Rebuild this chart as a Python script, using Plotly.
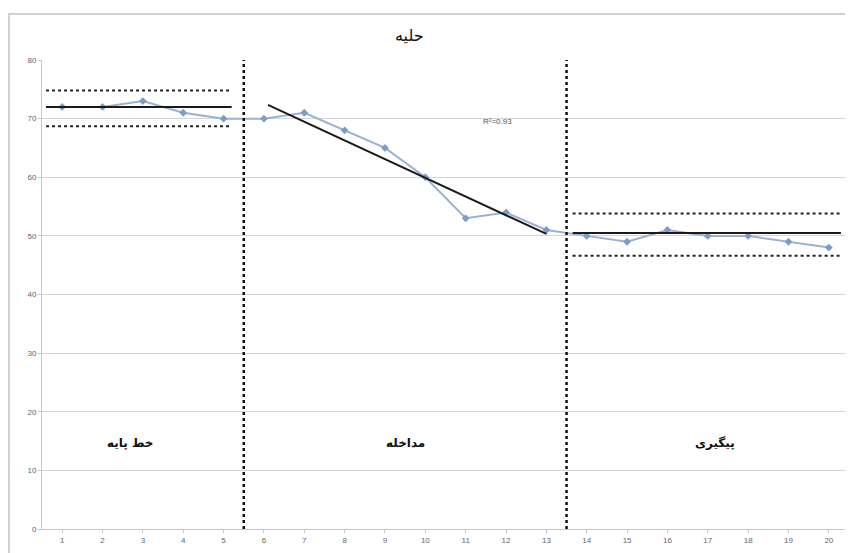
import numpy as np
import plotly.graph_objects as go

# ---- data ----
sessions = list(range(1, 21))
baseline_x = [1, 2, 3, 4, 5]
baseline_y = [72, 72, 73, 71, 70]
intervention_x = [6, 7, 8, 9, 10, 11, 12, 13]
intervention_y = [70, 71, 68, 65, 60, 53, 54, 51]
followup_x = [14, 15, 16, 17, 18, 19, 20]
followup_y = [50, 49, 51, 50, 50, 49, 48]

baseline_mean = 72
baseline_band = [68.7, 74.8]
followup_mean = 50.5
followup_band = [46.6, 53.8]

phase_labels = ["خط پایه", "مداخله", "پیگیری"]
phase_label_x = [2.68, 9.5, 17.18]
phase_breaks = [5.5, 13.5]
title_text = "حلیه"
y_ticks = [0, 10, 20, 30, 40, 50, 60, 70, 80]

all_x = baseline_x + intervention_x + followup_x
all_y = baseline_y + intervention_y + followup_y

# linear trend for intervention phase
slope, icpt = np.polyfit(intervention_x, intervention_y, 1)
pred = slope * np.array(intervention_x) + icpt
ss_res = np.sum((np.array(intervention_y) - pred) ** 2)
ss_tot = np.sum((np.array(intervention_y) - np.mean(intervention_y)) ** 2)
r2 = 1 - ss_res / ss_tot
trend_x = [6.1, 13.0]
trend_y = [slope * v + icpt for v in trend_x]

AR = "DejaVu Sans"
fig = go.Figure()

# data series
fig.add_trace(go.Scatter(
    x=all_x, y=all_y, mode="lines+markers",
    line=dict(color="#98B2D6", width=2),
    marker=dict(symbol="diamond", size=6, color="#7C9CC6"),
    showlegend=False, hoverinfo="skip"))

# baseline mean & band
bx = [0.6, 5.2]
fig.add_trace(go.Scatter(x=bx, y=[baseline_mean] * 2, mode="lines",
                         line=dict(color="#1a1a1a", width=2), showlegend=False))
for b in baseline_band:
    fig.add_trace(go.Scatter(x=bx, y=[b] * 2, mode="lines",
                             line=dict(color="#222", width=2, dash="dot"), showlegend=False))

# trend
fig.add_trace(go.Scatter(x=trend_x, y=trend_y, mode="lines",
                         line=dict(color="#1a1a1a", width=2), showlegend=False))

# follow-up mean & band
fx = [13.65, 20.3]
fig.add_trace(go.Scatter(x=fx, y=[followup_mean] * 2, mode="lines",
                         line=dict(color="#1a1a1a", width=2), showlegend=False))
for b in followup_band:
    fig.add_trace(go.Scatter(x=fx, y=[b] * 2, mode="lines",
                             line=dict(color="#222", width=2, dash="dot"), showlegend=False))

# phase break lines
for pb in phase_breaks:
    fig.add_shape(type="line", xref="x", yref="y", x0=pb, x1=pb, y0=0, y1=80,
                  line=dict(color="#111", width=2.5, dash="dot"))

# outer chart border
fig.add_shape(type="rect", xref="paper", yref="paper",
              x0=-0.041, x1=1.05, y0=-0.1, y1=1.098,
              line=dict(color="#cfcfcf", width=2), layer="below")

# phase labels
for lab, lx in zip(phase_labels, phase_label_x):
    fig.add_annotation(x=lx, y=14.7, text="<b>" + lab + "</b>", showarrow=False,
                       font=dict(family=AR, size=12, color="#111"))

# R2 label
fig.add_annotation(x=11.78, y=69.5, text="R²=%.2f" % r2, showarrow=False,
                   font=dict(family="Liberation Sans", size=8, color="#555"))

# title
fig.add_annotation(xref="paper", yref="paper", x=0.456, y=1.053, text=title_text,
                   xanchor="center", yanchor="middle",
                   showarrow=False, font=dict(family=AR, size=16, color="#111"))

fig.update_layout(
    width=845, height=545,
    margin=dict(l=34, r=4, t=52, b=24),
    paper_bgcolor="white", plot_bgcolor="white",
    xaxis=dict(range=[0.5, 20.5], tickvals=sessions, ticktext=[str(s) for s in sessions],
               showgrid=False, zeroline=False, showline=True, linecolor="#c8c8c8",
               ticks="outside", ticklen=3, tickcolor="#c8c8c8",
               tickfont=dict(family="Liberation Sans", size=8, color="#666")),
    yaxis=dict(range=[0, 80], tickvals=y_ticks, showgrid=True, gridcolor="#d4d4d4",
               gridwidth=1, zeroline=False, showline=True, linecolor="#c8c8c8",
               ticks="outside", ticklen=3, tickcolor="#c8c8c8",
               tickfont=dict(family="Liberation Sans", size=8, color="#666")),
)

fig.write_html("out.html")
